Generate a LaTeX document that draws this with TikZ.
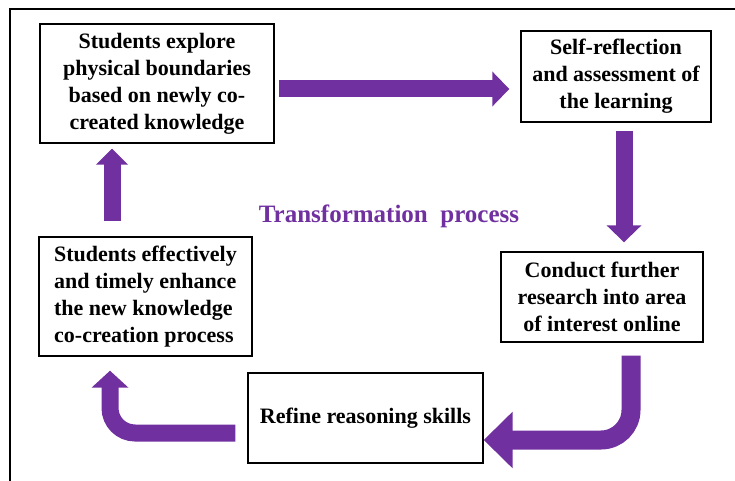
\documentclass[tikz,border=0pt]{standalone}
\usepackage{fontspec}
\setmainfont{Liberation Serif}
\usepackage{tikz}
\usetikzlibrary{arrows.meta}
\definecolor{violet}{HTML}{7030A0}

\begin{document}
\begin{tikzpicture}[x=1pt,y=-1pt,
    box/.style={draw,line width=1.4pt,align=center,inner sep=2pt,
                font=\bfseries\fontsize{22}{27}\selectfont},
    flow/.style={draw=violet,line width=17pt},
    tip/.style={-{Triangle[length=17pt,width=34pt]}}]
  \useasboundingbox (0,0) rectangle (735,481);
  \draw[line width=1.3pt] (10,481) -- (10,9) -- (735,9);
		  \node[box,minimum width=234pt,minimum height=119pt] (explore) at (157,83.5)
		    {Students explore\\physical boundaries\\based on newly co-\\created knowledge};
		  \node[box,minimum width=190pt,minimum height=91pt] (reflect) at (616,76.5)
		    {Self-reflection\\and assessment of\\the learning};
		  \node[box,minimum width=202pt,minimum height=90pt] (research) at (602,297)
		    {Conduct further\\research into area\\of interest online};
		  \node[box,minimum width=235pt,minimum height=90pt] (refine) at (365.5,418)
		    {Refine reasoning skills};
		  \node[box,align=left,minimum width=213pt,minimum height=119pt] (enhance) at (145.5,296.5)
		    {Students effectively\\and timely enhance\\the new knowledge\\co-creation process};
		  \node[text=violet,font=\bfseries\fontsize{25}{30}\selectfont] (title) at (389,216)
		    {Transformation\ \ process};
		  \draw[flow,tip] ([shift={(4,5.5)}]explore.east) -- ([shift={(-11,12.5)}]reflect.west);
		  \draw[flow,tip] ([shift={(8,8)}]reflect.south) -- ([shift={(22,-9)}]research.north);
		  \draw[flow,line width=19pt,rounded corners=30pt,-{Triangle[length=29pt,width=55pt]}]
		    ([shift={(29,13)}]research.south) |- ([shift={(0,22)}]refine.east);
		  \draw[flow,rounded corners=25pt,-{Triangle[length=17pt,width=36pt]}]
		    ([shift={(-12,15)}]refine.west) -| ([shift={(-35.5,14)}]enhance.south);
		  \draw[flow,-{Triangle[length=16pt,width=31pt]}]
		    ([shift={(-33.5,-15)}]enhance.north) -- ([shift={(-45,5)}]explore.south);
\end{tikzpicture}
\end{document}
